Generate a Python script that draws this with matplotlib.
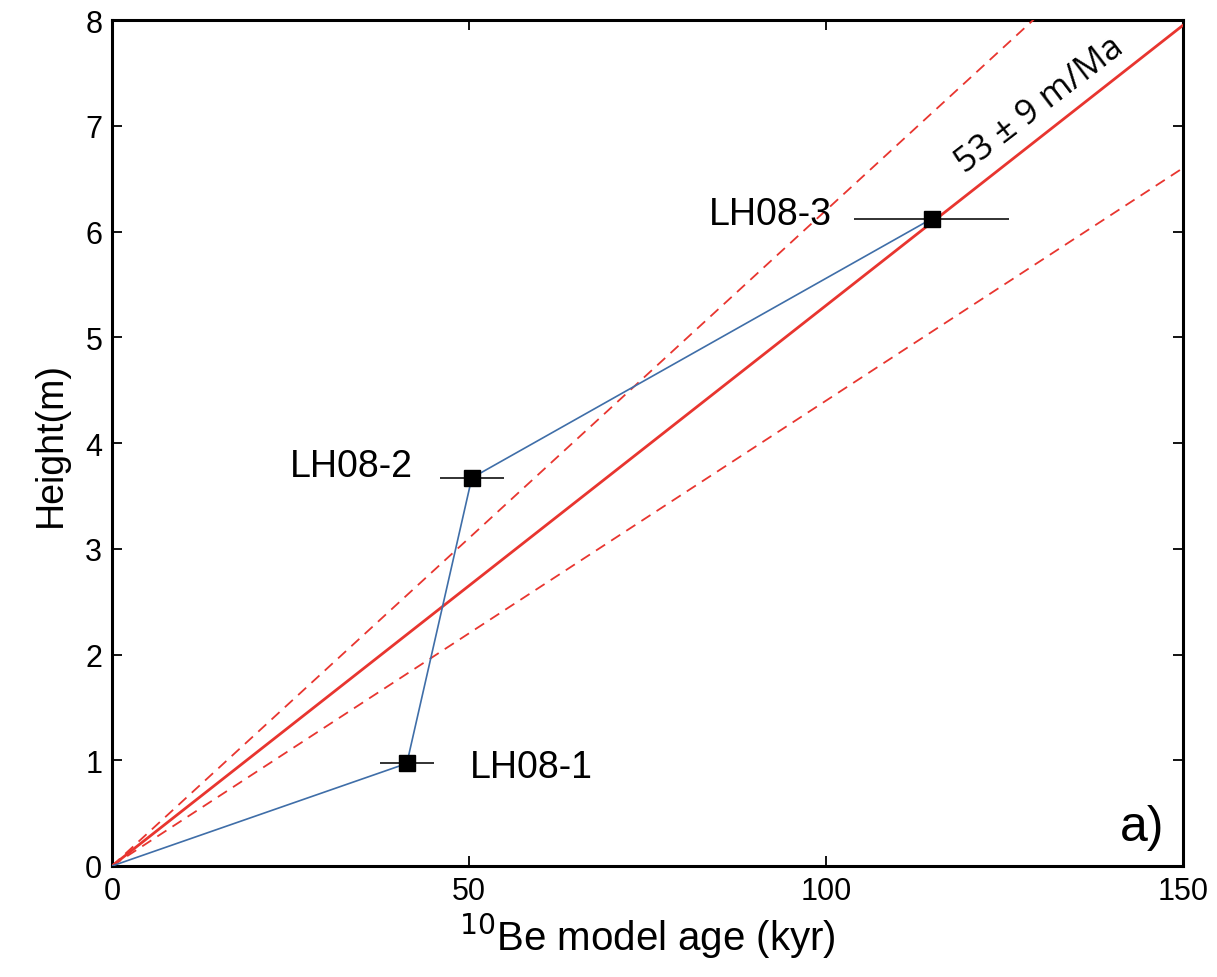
import matplotlib
matplotlib.use("Agg")
import matplotlib.pyplot as plt
import numpy as np

# Data
samples = ["LH08-1", "LH08-2", "LH08-3"]
age_kyr = [41.3, 50.4, 114.8]
age_err = [3.8, 4.5, 10.8]
height_m = [0.97, 3.67, 6.12]

rate = 0.053      # m/kyr (53 m/Ma)
rate_err = 0.009  # m/kyr
x_fit = [0, 150]

label_pos = [(50.1, 0.94, "left"), (42.2, 3.78, "right"), (100.8, 6.17, "right")]

fig = plt.figure(figsize=(12.17, 9.78), dpi=100)
ax = fig.add_axes([0.092, 0.1135, 0.880, 0.865])
plt.rcParams['font.family'] = ['Liberation Sans', 'DejaVu Sans']

red = "#e8352f"
xf = np.array(x_fit, dtype=float)
ax.plot(xf, rate * xf, color=red, lw=2.0, zorder=3)
ax.plot(xf, (rate + rate_err) * xf, color=red, lw=1.3, ls=(0, (6, 4)), zorder=3)
ax.plot(xf, (rate - rate_err) * xf, color=red, lw=1.3, ls=(0, (6, 4)), zorder=3)

ax.plot([0] + age_kyr, [0] + height_m, color="#3f6ea8", lw=1.2, zorder=4)
ax.errorbar(age_kyr, height_m, xerr=age_err, fmt="s", color="black",
            ecolor="#222222", elinewidth=1.3, capsize=0, markersize=11, zorder=5)

for name, (lx, ly, ha) in zip(samples, label_pos):
    ax.text(lx, ly, name, ha=ha, va="center", fontsize=27,
            family=['Liberation Sans', 'DejaVu Sans'])

ax.text(129.9, 7.2, "53 ± 9 m/Ma", rotation=37.5, ha="center", va="center",
        rotation_mode="anchor", fontsize=25, family=['Open Sans', 'DejaVu Sans'])

ax.text(144.3, 0.37, "a)", ha="center", va="center", fontsize=36,
        family=['Liberation Sans', 'DejaVu Sans'])

ax.set_xlim(0, 150)
ax.set_ylim(0, 8)
ax.set_xticks([0, 50, 100, 150])
ax.set_yticks(range(0, 9))
ax.tick_params(direction="in", length=7, width=1.3, labelsize=22,
               top=True, right=True, pad=7)
for lab in ax.get_xticklabels() + ax.get_yticklabels():
    lab.set_family(['Liberation Sans', 'DejaVu Sans'])
for sp in ax.spines.values():
    sp.set_linewidth(2.2)

ax.set_xlabel(r"$^{10}$Be model age (kyr)", fontsize=29, labelpad=4,
              family=['Liberation Sans', 'DejaVu Sans'])
ax.set_ylabel("Height(m)", fontsize=27, labelpad=12,
              family=['Liberation Sans', 'DejaVu Sans'])

fig.savefig("out.png", dpi=100)
